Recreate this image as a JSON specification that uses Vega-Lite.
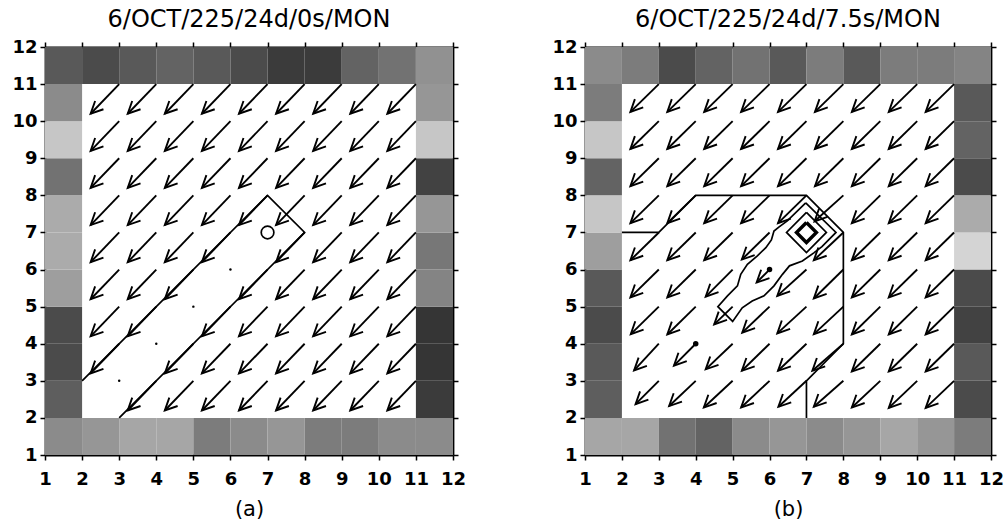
{
  "$schema": "https://vega.github.io/schema/vega-lite/v6.json",
  "padding": {"left": 11, "top": 8, "right": 0, "bottom": 0},
  "spacing": 85,
  "background": "white",
  "datasets": {
    "ringA": [
      {"x0":1,"x1":2,"y0":11,"y1":12,"d":0.62},{"x0":2,"x1":3,"y0":11,"y1":12,"d":0.68},{"x0":3,"x1":4,"y0":11,"y1":12,"d":0.62},{"x0":4,"x1":5,"y0":11,"y1":12,"d":0.58},{"x0":5,"x1":6,"y0":11,"y1":12,"d":0.62},{"x0":6,"x1":7,"y0":11,"y1":12,"d":0.68},{"x0":7,"x1":8,"y0":11,"y1":12,"d":0.75},{"x0":8,"x1":9,"y0":11,"y1":12,"d":0.75},{"x0":9,"x1":10,"y0":11,"y1":12,"d":0.58},{"x0":10,"x1":11,"y0":11,"y1":12,"d":0.52},{"x0":11,"x1":12,"y0":11,"y1":12,"d":0.4},
      {"x0":1,"x1":2,"y0":2,"y1":3,"d":0.6},{"x0":1,"x1":2,"y0":3,"y1":4,"d":0.68},{"x0":1,"x1":2,"y0":4,"y1":5,"d":0.68},{"x0":1,"x1":2,"y0":5,"y1":6,"d":0.35},{"x0":1,"x1":2,"y0":6,"y1":7,"d":0.3},{"x0":1,"x1":2,"y0":7,"y1":8,"d":0.3},{"x0":1,"x1":2,"y0":8,"y1":9,"d":0.52},{"x0":1,"x1":2,"y0":9,"y1":10,"d":0.2},{"x0":1,"x1":2,"y0":10,"y1":11,"d":0.42},
      {"x0":1,"x1":2,"y0":1,"y1":2,"d":0.42},{"x0":2,"x1":3,"y0":1,"y1":2,"d":0.38},{"x0":3,"x1":4,"y0":1,"y1":2,"d":0.32},{"x0":4,"x1":5,"y0":1,"y1":2,"d":0.32},{"x0":5,"x1":6,"y0":1,"y1":2,"d":0.48},{"x0":6,"x1":7,"y0":1,"y1":2,"d":0.42},{"x0":7,"x1":8,"y0":1,"y1":2,"d":0.38},{"x0":8,"x1":9,"y0":1,"y1":2,"d":0.48},{"x0":9,"x1":10,"y0":1,"y1":2,"d":0.48},{"x0":10,"x1":11,"y0":1,"y1":2,"d":0.42},{"x0":11,"x1":12,"y0":1,"y1":2,"d":0.42},
      {"x0":11,"x1":12,"y0":2,"y1":3,"d":0.75},{"x0":11,"x1":12,"y0":3,"y1":4,"d":0.78},{"x0":11,"x1":12,"y0":4,"y1":5,"d":0.78},{"x0":11,"x1":12,"y0":5,"y1":6,"d":0.45},{"x0":11,"x1":12,"y0":6,"y1":7,"d":0.5},{"x0":11,"x1":12,"y0":7,"y1":8,"d":0.38},{"x0":11,"x1":12,"y0":8,"y1":9,"d":0.72},{"x0":11,"x1":12,"y0":9,"y1":10,"d":0.2},{"x0":11,"x1":12,"y0":10,"y1":11,"d":0.38}
    ],
    "ringB": [
      {"x0":1,"x1":2,"y0":11,"y1":12,"d":0.42},{"x0":2,"x1":3,"y0":11,"y1":12,"d":0.48},{"x0":3,"x1":4,"y0":11,"y1":12,"d":0.68},{"x0":4,"x1":5,"y0":11,"y1":12,"d":0.58},{"x0":5,"x1":6,"y0":11,"y1":12,"d":0.52},{"x0":6,"x1":7,"y0":11,"y1":12,"d":0.62},{"x0":7,"x1":8,"y0":11,"y1":12,"d":0.48},{"x0":8,"x1":9,"y0":11,"y1":12,"d":0.62},{"x0":9,"x1":10,"y0":11,"y1":12,"d":0.48},{"x0":10,"x1":11,"y0":11,"y1":12,"d":0.48},{"x0":11,"x1":12,"y0":11,"y1":12,"d":0.45},
      {"x0":1,"x1":2,"y0":2,"y1":3,"d":0.6},{"x0":1,"x1":2,"y0":3,"y1":4,"d":0.62},{"x0":1,"x1":2,"y0":4,"y1":5,"d":0.68},{"x0":1,"x1":2,"y0":5,"y1":6,"d":0.62},{"x0":1,"x1":2,"y0":6,"y1":7,"d":0.35},{"x0":1,"x1":2,"y0":7,"y1":8,"d":0.2},{"x0":1,"x1":2,"y0":8,"y1":9,"d":0.58},{"x0":1,"x1":2,"y0":9,"y1":10,"d":0.2},{"x0":1,"x1":2,"y0":10,"y1":11,"d":0.48},
      {"x0":1,"x1":2,"y0":1,"y1":2,"d":0.32},{"x0":2,"x1":3,"y0":1,"y1":2,"d":0.32},{"x0":3,"x1":4,"y0":1,"y1":2,"d":0.52},{"x0":4,"x1":5,"y0":1,"y1":2,"d":0.58},{"x0":5,"x1":6,"y0":1,"y1":2,"d":0.42},{"x0":6,"x1":7,"y0":1,"y1":2,"d":0.38},{"x0":7,"x1":8,"y0":1,"y1":2,"d":0.42},{"x0":8,"x1":9,"y0":1,"y1":2,"d":0.38},{"x0":9,"x1":10,"y0":1,"y1":2,"d":0.32},{"x0":10,"x1":11,"y0":1,"y1":2,"d":0.38},{"x0":11,"x1":12,"y0":1,"y1":2,"d":0.48},
      {"x0":11,"x1":12,"y0":2,"y1":3,"d":0.68},{"x0":11,"x1":12,"y0":3,"y1":4,"d":0.62},{"x0":11,"x1":12,"y0":4,"y1":5,"d":0.72},{"x0":11,"x1":12,"y0":5,"y1":6,"d":0.68},{"x0":11,"x1":12,"y0":6,"y1":7,"d":0.15},{"x0":11,"x1":12,"y0":7,"y1":8,"d":0.3},{"x0":11,"x1":12,"y0":8,"y1":9,"d":0.68},{"x0":11,"x1":12,"y0":9,"y1":10,"d":0.58},{"x0":11,"x1":12,"y0":10,"y1":11,"d":0.62}
    ],
    "arrowsA": [
      {"x":3,"y":11,"hx":2.23,"hy":10.2},{"x":4,"y":11,"hx":3.23,"hy":10.2},{"x":5,"y":11,"hx":4.23,"hy":10.2},{"x":6,"y":11,"hx":5.23,"hy":10.2},{"x":7,"y":11,"hx":6.23,"hy":10.2},{"x":8,"y":11,"hx":7.23,"hy":10.2},{"x":9,"y":11,"hx":8.23,"hy":10.2},{"x":10,"y":11,"hx":9.23,"hy":10.2},{"x":11,"y":11,"hx":10.23,"hy":10.2},
      {"x":3,"y":10,"hx":2.23,"hy":9.2},{"x":4,"y":10,"hx":3.23,"hy":9.2},{"x":5,"y":10,"hx":4.23,"hy":9.2},{"x":6,"y":10,"hx":5.23,"hy":9.2},{"x":7,"y":10,"hx":6.23,"hy":9.2},{"x":8,"y":10,"hx":7.23,"hy":9.2},{"x":9,"y":10,"hx":8.23,"hy":9.2},{"x":10,"y":10,"hx":9.23,"hy":9.2},{"x":11,"y":10,"hx":10.23,"hy":9.2},
      {"x":3,"y":9,"hx":2.23,"hy":8.2},{"x":4,"y":9,"hx":3.23,"hy":8.2},{"x":5,"y":9,"hx":4.23,"hy":8.2},{"x":6,"y":9,"hx":5.23,"hy":8.2},{"x":7,"y":9,"hx":6.23,"hy":8.2},{"x":8,"y":9,"hx":7.23,"hy":8.2},{"x":9,"y":9,"hx":8.23,"hy":8.2},{"x":10,"y":9,"hx":9.23,"hy":8.2},{"x":11,"y":9,"hx":10.23,"hy":8.2},
      {"x":3,"y":8,"hx":2.23,"hy":7.2},{"x":4,"y":8,"hx":3.23,"hy":7.2},{"x":5,"y":8,"hx":4.23,"hy":7.2},{"x":6,"y":8,"hx":5.23,"hy":7.2},{"x":7,"y":8,"hx":6.23,"hy":7.2},{"x":8,"y":8,"hx":7.23,"hy":7.2},{"x":9,"y":8,"hx":8.23,"hy":7.2},{"x":10,"y":8,"hx":9.23,"hy":7.2},{"x":11,"y":8,"hx":10.23,"hy":7.2},
      {"x":3,"y":7,"hx":2.23,"hy":6.2},{"x":4,"y":7,"hx":3.23,"hy":6.2},{"x":5,"y":7,"hx":4.23,"hy":6.2},{"x":6,"y":7,"hx":5.23,"hy":6.2},{"x":8,"y":7,"hx":7.23,"hy":6.2},{"x":9,"y":7,"hx":8.23,"hy":6.2},{"x":10,"y":7,"hx":9.23,"hy":6.2},{"x":11,"y":7,"hx":10.23,"hy":6.2},
      {"x":3,"y":6,"hx":2.23,"hy":5.2},{"x":4,"y":6,"hx":3.23,"hy":5.2},{"x":5,"y":6,"hx":4.23,"hy":5.2},{"x":7,"y":6,"hx":6.23,"hy":5.2},{"x":8,"y":6,"hx":7.23,"hy":5.2},{"x":9,"y":6,"hx":8.23,"hy":5.2},{"x":10,"y":6,"hx":9.23,"hy":5.2},{"x":11,"y":6,"hx":10.23,"hy":5.2},
      {"x":3,"y":5,"hx":2.23,"hy":4.2},{"x":4,"y":5,"hx":3.23,"hy":4.2},{"x":6,"y":5,"hx":5.23,"hy":4.2},{"x":7,"y":5,"hx":6.23,"hy":4.2},{"x":8,"y":5,"hx":7.23,"hy":4.2},{"x":9,"y":5,"hx":8.23,"hy":4.2},{"x":10,"y":5,"hx":9.23,"hy":4.2},{"x":11,"y":5,"hx":10.23,"hy":4.2},
      {"x":3,"y":4,"hx":2.23,"hy":3.2},{"x":5,"y":4,"hx":4.23,"hy":3.2},{"x":6,"y":4,"hx":5.23,"hy":3.2},{"x":7,"y":4,"hx":6.23,"hy":3.2},{"x":8,"y":4,"hx":7.23,"hy":3.2},{"x":9,"y":4,"hx":8.23,"hy":3.2},{"x":10,"y":4,"hx":9.23,"hy":3.2},{"x":11,"y":4,"hx":10.23,"hy":3.2},
      {"x":4,"y":3,"hx":3.23,"hy":2.2},{"x":5,"y":3,"hx":4.23,"hy":2.2},{"x":6,"y":3,"hx":5.23,"hy":2.2},{"x":7,"y":3,"hx":6.23,"hy":2.2},{"x":8,"y":3,"hx":7.23,"hy":2.2},{"x":9,"y":3,"hx":8.23,"hy":2.2},{"x":10,"y":3,"hx":9.23,"hy":2.2},{"x":11,"y":3,"hx":10.23,"hy":2.2}
    ],
    "arrowsB": [
      {"x":3,"y":11,"hx":2.23,"hy":10.25},{"x":4,"y":11,"hx":3.23,"hy":10.25},{"x":5,"y":11,"hx":4.23,"hy":10.25},{"x":6,"y":11,"hx":5.23,"hy":10.25},{"x":7,"y":11,"hx":6.23,"hy":10.25},{"x":8,"y":11,"hx":7.23,"hy":10.25},{"x":9,"y":11,"hx":8.23,"hy":10.25},{"x":10,"y":11,"hx":9.23,"hy":10.25},{"x":11,"y":11,"hx":10.23,"hy":10.25},
      {"x":3,"y":10,"hx":2.23,"hy":9.25},{"x":4,"y":10,"hx":3.23,"hy":9.25},{"x":5,"y":10,"hx":4.23,"hy":9.25},{"x":6,"y":10,"hx":5.23,"hy":9.25},{"x":7,"y":10,"hx":6.23,"hy":9.25},{"x":8,"y":10,"hx":7.23,"hy":9.25},{"x":9,"y":10,"hx":8.23,"hy":9.25},{"x":10,"y":10,"hx":9.23,"hy":9.25},{"x":11,"y":10,"hx":10.23,"hy":9.25},
      {"x":3,"y":9,"hx":2.23,"hy":8.25},{"x":4,"y":9,"hx":3.23,"hy":8.25},{"x":5,"y":9,"hx":4.23,"hy":8.25},{"x":6,"y":9,"hx":5.23,"hy":8.25},{"x":7,"y":9,"hx":6.23,"hy":8.25},{"x":8,"y":9,"hx":7.23,"hy":8.25},{"x":9,"y":9,"hx":8.23,"hy":8.25},{"x":10,"y":9,"hx":9.23,"hy":8.25},{"x":11,"y":9,"hx":10.23,"hy":8.25},
      {"x":3,"y":8,"hx":2.23,"hy":7.25},{"x":4,"y":8,"hx":3.23,"hy":7.25},{"x":5,"y":8,"hx":4.23,"hy":7.25},{"x":6,"y":8,"hx":5.23,"hy":7.25},{"x":7,"y":8,"hx":6.23,"hy":7.25},{"x":8,"y":8,"hx":7.22,"hy":7.3},{"x":9,"y":8,"hx":8.23,"hy":7.25},{"x":10,"y":8,"hx":9.23,"hy":7.25},{"x":11,"y":8,"hx":10.23,"hy":7.25},
      {"x":3,"y":7,"hx":2.23,"hy":6.25},{"x":4,"y":7,"hx":3.23,"hy":6.25},{"x":5,"y":7,"hx":4.23,"hy":6.25},{"x":6,"y":7,"hx":5.25,"hy":6.27},{"x":8,"y":7,"hx":7.2,"hy":6.25},{"x":9,"y":7,"hx":8.23,"hy":6.25},{"x":10,"y":7,"hx":9.23,"hy":6.25},{"x":11,"y":7,"hx":10.23,"hy":6.25},
      {"x":3,"y":6,"hx":2.23,"hy":5.25},{"x":4,"y":6,"hx":3.23,"hy":5.25},{"x":5,"y":6,"hx":4.27,"hy":5.27},{"x":6,"y":6,"hx":5.65,"hy":5.65},{"x":7,"y":6,"hx":6.21,"hy":5.29},{"x":8,"y":6,"hx":7.2,"hy":5.22},{"x":9,"y":6,"hx":8.23,"hy":5.25},{"x":10,"y":6,"hx":9.23,"hy":5.25},{"x":11,"y":6,"hx":10.23,"hy":5.25},
      {"x":3,"y":5,"hx":2.24,"hy":4.26},{"x":4,"y":5,"hx":3.23,"hy":4.25},{"x":5,"y":5,"hx":4.5,"hy":4.52},{"x":6,"y":5,"hx":5.26,"hy":4.3},{"x":7,"y":5,"hx":6.21,"hy":4.28},{"x":8,"y":5,"hx":7.2,"hy":4.26},{"x":9,"y":5,"hx":8.23,"hy":4.25},{"x":10,"y":5,"hx":9.23,"hy":4.25},{"x":11,"y":5,"hx":10.23,"hy":4.25},
      {"x":3,"y":4,"hx":2.33,"hy":3.28},{"x":4,"y":4,"hx":3.41,"hy":3.41},{"x":5,"y":4,"hx":4.27,"hy":3.31},{"x":6,"y":4,"hx":5.25,"hy":3.27},{"x":7,"y":4,"hx":6.23,"hy":3.27},{"x":8,"y":4,"hx":7.16,"hy":3.27},{"x":9,"y":4,"hx":8.23,"hy":3.25},{"x":10,"y":4,"hx":9.23,"hy":3.25},{"x":11,"y":4,"hx":10.23,"hy":3.25},
      {"x":3,"y":3,"hx":2.37,"hy":2.37},{"x":4,"y":3,"hx":3.28,"hy":2.32},{"x":5,"y":3,"hx":4.22,"hy":2.28},{"x":6,"y":3,"hx":5.23,"hy":2.28},{"x":7,"y":3,"hx":6.24,"hy":2.3},{"x":8,"y":3,"hx":7.2,"hy":2.3},{"x":9,"y":3,"hx":8.23,"hy":2.28},{"x":10,"y":3,"hx":9.23,"hy":2.27},{"x":11,"y":3,"hx":10.23,"hy":2.27}
    ],
    "contA": [
      {"c":"a1","k":0,"x":2,"y":3},{"c":"a1","k":1,"x":7,"y":8},{"c":"a1","k":2,"x":8,"y":7},{"c":"a1","k":3,"x":3,"y":2}
    ],
    "contB": [
      {"c":"b1","k":0,"x":2,"y":7},{"c":"b1","k":1,"x":3,"y":7},{"c":"b1","k":2,"x":4,"y":8},{"c":"b1","k":3,"x":7,"y":8},{"c":"b1","k":4,"x":8,"y":7},{"c":"b1","k":5,"x":8,"y":4},{"c":"b1","k":6,"x":7,"y":3},{"c":"b1","k":7,"x":7,"y":2},
      {"c":"b2","k":0,"x":6.98,"y":7.8},{"c":"b2","k":1,"x":7.8,"y":7.0},{"c":"b2","k":2,"x":7.42,"y":6.62},{"c":"b2","k":3,"x":7.2,"y":6.45},{"c":"b2","k":4,"x":6.89,"y":6.23},{"c":"b2","k":5,"x":6.54,"y":6.1},{"c":"b2","k":6,"x":6.35,"y":5.87},{"c":"b2","k":7,"x":6.12,"y":5.56},{"c":"b2","k":8,"x":5.85,"y":5.29},{"c":"b2","k":9,"x":5.53,"y":5.15},{"c":"b2","k":10,"x":5.26,"y":4.97},{"c":"b2","k":11,"x":5.0,"y":4.6},{"c":"b2","k":12,"x":4.6,"y":5.0},{"c":"b2","k":13,"x":4.86,"y":5.29},{"c":"b2","k":14,"x":5.13,"y":5.56},{"c":"b2","k":15,"x":5.22,"y":5.87},{"c":"b2","k":16,"x":5.4,"y":6.14},{"c":"b2","k":17,"x":5.67,"y":6.37},{"c":"b2","k":18,"x":5.9,"y":6.59},{"c":"b2","k":19,"x":6.05,"y":6.8},{"c":"b2","k":20,"x":6.12,"y":7.04},{"c":"b2","k":21,"x":6.26,"y":7.15},{"c":"b2","k":22,"x":6.48,"y":7.31},{"c":"b2","k":23,"x":6.98,"y":7.8},
      {"c":"b3","k":0,"x":7,"y":7.54},{"c":"b3","k":1,"x":7.54,"y":7},{"c":"b3","k":2,"x":7,"y":6.46},{"c":"b3","k":3,"x":6.46,"y":7},{"c":"b3","k":4,"x":7,"y":7.54},
      {"c":"b4","k":0,"x":7,"y":7.27},{"c":"b4","k":1,"x":7.27,"y":7},{"c":"b4","k":2,"x":7,"y":6.73},{"c":"b4","k":3,"x":6.73,"y":7},{"c":"b4","k":4,"x":7,"y":7.27}
    ],
    "dotsA": [{"x":3,"y":3},{"x":4,"y":4},{"x":5,"y":5},{"x":6,"y":6}],
    "centerA": [{"x":7,"y":7}],
    "dotsB": [{"x":4,"y":4},{"x":6,"y":6}]
  },
  "hconcat": [
    {
      "width": 408,
      "height": 408,
      "title": {"text": "6/OCT/225/24d/0s/MON"},
      "layer": [
        {
          "data": {"name": "ringA"},
          "mark": {"type": "rect", "strokeWidth": 0},
          "encoding": {
            "x": {"field": "x0", "type": "quantitative", "scale": {"domain": [1, 12], "nice": false, "zero": false}, "axis": {"orient": "bottom", "values": [1,2,3,4,5,6,7,8,9,10,11,12], "title": "(a)"}},
            "x2": {"field": "x1"},
            "y": {"field": "y0", "type": "quantitative", "scale": {"domain": [1, 12], "nice": false, "zero": false}, "axis": {"orient": "left", "values": [1,2,3,4,5,6,7,8,9,10,11,12], "title": null}},
            "y2": {"field": "y1"},
            "color": {"field": "d", "type": "quantitative", "scale": {"domain": [0, 1], "range": ["#ffffff", "#000000"]}, "legend": null}
          }
        },
        {
          "data": {"name": "contA"},
          "mark": {"type": "line", "color": "black", "strokeWidth": 1.7},
          "encoding": {
            "x": {"field": "x", "type": "quantitative", "scale": {"domain": [1, 12], "nice": false, "zero": false}, "axis": {"orient": "top", "values": [1,2,3,4,5,6,7,8,9,10,11,12], "labels": false, "title": null}},
            "y": {"field": "y", "type": "quantitative", "scale": {"domain": [1, 12], "nice": false, "zero": false}, "axis": {"orient": "right", "values": [1,2,3,4,5,6,7,8,9,10,11,12], "labels": false, "title": null}},
            "detail": {"field": "c"},
            "order": {"field": "k"}
          }
        },
        {
          "data": {"name": "arrowsA"},
          "mark": {"type": "rule", "color": "black", "strokeWidth": 1.9},
          "encoding": {
            "x": {"field": "x", "type": "quantitative", "axis": null},
            "y": {"field": "y", "type": "quantitative", "axis": null},
            "x2": {"field": "hx"},
            "y2": {"field": "hy"}
          }
        },
        {
          "data": {"name": "arrowsA"},
          "mark": {"type": "point", "shape": "M-1,-0.48L0,0L-1,0.48", "angle": 135, "size": 600, "filled": false, "stroke": "black", "strokeWidth": 1.9, "opacity": 1, "strokeJoin": "miter"},
          "encoding": {
            "x": {"field": "hx", "type": "quantitative", "axis": null},
            "y": {"field": "hy", "type": "quantitative", "axis": null}
          }
        },
        {
          "data": {"name": "dotsA"},
          "mark": {"type": "point", "shape": "circle", "filled": true, "size": 6, "color": "black", "opacity": 1},
          "encoding": {
            "x": {"field": "x", "type": "quantitative", "axis": null},
            "y": {"field": "y", "type": "quantitative", "axis": null}
          }
        },
        {
          "data": {"name": "centerA"},
          "mark": {"type": "point", "shape": "circle", "filled": false, "size": 160, "stroke": "black", "strokeWidth": 1.7, "opacity": 1},
          "encoding": {
            "x": {"field": "x", "type": "quantitative", "axis": null},
            "y": {"field": "y", "type": "quantitative", "axis": null}
          }
        }
      ]
    },
    {
      "width": 406,
      "height": 408,
      "title": {"text": "6/OCT/225/24d/7.5s/MON"},
      "layer": [
        {
          "data": {"name": "ringB"},
          "mark": {"type": "rect", "strokeWidth": 0},
          "encoding": {
            "x": {"field": "x0", "type": "quantitative", "scale": {"domain": [1, 12], "nice": false, "zero": false}, "axis": {"orient": "bottom", "values": [1,2,3,4,5,6,7,8,9,10,11,12], "title": "(b)"}},
            "x2": {"field": "x1"},
            "y": {"field": "y0", "type": "quantitative", "scale": {"domain": [1, 12], "nice": false, "zero": false}, "axis": {"orient": "left", "values": [1,2,3,4,5,6,7,8,9,10,11,12], "title": null}},
            "y2": {"field": "y1"},
            "color": {"field": "d", "type": "quantitative", "scale": {"domain": [0, 1], "range": ["#ffffff", "#000000"]}, "legend": null}
          }
        },
        {
          "data": {"name": "contB"},
          "transform": [{"filter": "datum.c !== 'b4'"}],
          "mark": {"type": "line", "color": "black", "strokeWidth": 1.7},
          "encoding": {
            "x": {"field": "x", "type": "quantitative", "scale": {"domain": [1, 12], "nice": false, "zero": false}, "axis": {"orient": "top", "values": [1,2,3,4,5,6,7,8,9,10,11,12], "labels": false, "title": null}},
            "y": {"field": "y", "type": "quantitative", "scale": {"domain": [1, 12], "nice": false, "zero": false}, "axis": {"orient": "right", "values": [1,2,3,4,5,6,7,8,9,10,11,12], "labels": false, "title": null}},
            "detail": {"field": "c"},
            "order": {"field": "k"}
          }
        },
        {
          "data": {"name": "contB"},
          "transform": [{"filter": "datum.c === 'b4'"}],
          "mark": {"type": "line", "color": "black", "strokeWidth": 3.4},
          "encoding": {
            "x": {"field": "x", "type": "quantitative", "axis": null},
            "y": {"field": "y", "type": "quantitative", "axis": null},
            "detail": {"field": "c"},
            "order": {"field": "k"}
          }
        },
        {
          "data": {"name": "arrowsB"},
          "mark": {"type": "rule", "color": "black", "strokeWidth": 1.9},
          "encoding": {
            "x": {"field": "x", "type": "quantitative", "axis": null},
            "y": {"field": "y", "type": "quantitative", "axis": null},
            "x2": {"field": "hx"},
            "y2": {"field": "hy"}
          }
        },
        {
          "data": {"name": "arrowsB"},
          "mark": {"type": "point", "shape": "M-1,-0.48L0,0L-1,0.48", "angle": 135, "size": 600, "filled": false, "stroke": "black", "strokeWidth": 1.9, "opacity": 1, "strokeJoin": "miter"},
          "encoding": {
            "x": {"field": "hx", "type": "quantitative", "axis": null},
            "y": {"field": "hy", "type": "quantitative", "axis": null}
          }
        },
        {
          "data": {"name": "dotsB"},
          "mark": {"type": "point", "shape": "circle", "filled": true, "size": 30, "color": "black", "opacity": 1},
          "encoding": {
            "x": {"field": "x", "type": "quantitative", "axis": null},
            "y": {"field": "y", "type": "quantitative", "axis": null}
          }
        }
      ]
    }
  ],
  "config": {
    "view": {"stroke": null},
    "title": {"font": "DejaVu Sans", "fontSize": 24, "fontWeight": "normal", "color": "black", "anchor": "middle", "frame": "group", "offset": 6},
    "axis": {
      "domainColor": "black", "domainWidth": 1.8, "tickColor": "black", "tickWidth": 1.5, "tickSize": 5,
      "labelFont": "DejaVu Sans", "labelFontWeight": "bold", "labelFontSize": 18, "labelColor": "black", "labelPadding": 3,
      "labelOverlap": false, "labelFlush": false, "grid": false,
      "titleFont": "DejaVu Sans", "titleFontSize": 21, "titleFontWeight": "normal", "titleColor": "black"
    },
    "axisX": {"labelPadding": 10, "titlePadding": 10}
  }
}
